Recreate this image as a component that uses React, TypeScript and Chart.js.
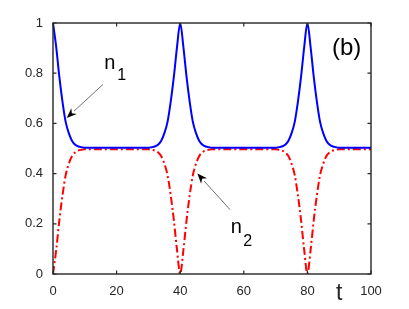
import React, { useEffect, useRef } from "react";
import { Chart, registerables } from "chart.js";

Chart.register(...registerables);

// time axis (t)
const T = [
  0, 1, 2, 3, 4, 5, 6, 7, 8, 9, 10, 11, 12, 13, 14, 15, 16, 17, 18, 19,
  20, 21, 22, 23, 24, 25, 26, 27, 28, 29, 30, 31, 32, 33, 34, 35, 36, 37, 38, 39,
  40, 41, 42, 43, 44, 45, 46, 47, 48, 49, 50, 51, 52, 53, 54, 55, 56, 57, 58, 59,
  60, 61, 62, 63, 64, 65, 66, 67, 68, 69, 70, 71, 72, 73, 74, 75, 76, 77, 78, 79,
  80, 81, 82, 83, 84, 85, 86, 87, 88, 89, 90, 91, 92, 93, 94, 95, 96, 97, 98, 99, 100,
];

// n1 (blue, solid)
const N1 = [
  1.0, 0.905, 0.785, 0.685, 0.605, 0.56, 0.53, 0.515, 0.508, 0.505, 0.503, 0.503, 0.503, 0.503, 0.503, 0.503, 0.503, 0.503, 0.503, 0.503,
  0.503, 0.503, 0.503, 0.503, 0.503, 0.503, 0.503, 0.503, 0.503, 0.503, 0.503, 0.505, 0.508, 0.515, 0.53, 0.56, 0.605, 0.685, 0.785, 0.905,
  1.0, 0.905, 0.785, 0.685, 0.605, 0.56, 0.53, 0.515, 0.508, 0.505, 0.503, 0.503, 0.503, 0.503, 0.503, 0.503, 0.503, 0.503, 0.503, 0.503,
  0.503, 0.503, 0.503, 0.503, 0.503, 0.503, 0.503, 0.503, 0.503, 0.503, 0.503, 0.505, 0.508, 0.515, 0.53, 0.56, 0.605, 0.685, 0.785, 0.905,
  1.0, 0.905, 0.785, 0.685, 0.605, 0.56, 0.53, 0.515, 0.508, 0.505, 0.503, 0.503, 0.503, 0.503, 0.503, 0.503, 0.503, 0.503, 0.503, 0.503, 0.503,
];

// n2 (red, dash-dot)
const N2 = [
  0.0, 0.095, 0.215, 0.315, 0.395, 0.44, 0.47, 0.485, 0.492, 0.495, 0.497, 0.497, 0.497, 0.497, 0.497, 0.497, 0.497, 0.497, 0.497, 0.497,
  0.497, 0.497, 0.497, 0.497, 0.497, 0.497, 0.497, 0.497, 0.497, 0.497, 0.497, 0.495, 0.492, 0.485, 0.47, 0.44, 0.395, 0.315, 0.215, 0.095,
  0.0, 0.095, 0.215, 0.315, 0.395, 0.44, 0.47, 0.485, 0.492, 0.495, 0.497, 0.497, 0.497, 0.497, 0.497, 0.497, 0.497, 0.497, 0.497, 0.497,
  0.497, 0.497, 0.497, 0.497, 0.497, 0.497, 0.497, 0.497, 0.497, 0.497, 0.497, 0.495, 0.492, 0.485, 0.47, 0.44, 0.395, 0.315, 0.215, 0.095,
  0.0, 0.095, 0.215, 0.315, 0.395, 0.44, 0.47, 0.485, 0.492, 0.495, 0.497, 0.497, 0.497, 0.497, 0.497, 0.497, 0.497, 0.497, 0.497, 0.497, 0.497,
];

const X_TICKS = [0, 20, 40, 60, 80, 100];
const Y_TICKS = [0, 0.2, 0.4, 0.6, 0.8, 1];

const FONT = '"Liberation Sans", Arial, Helvetica, sans-serif';
const AXIS_COLOR = "#262626";

// annotation anchors in data units
const LABELS = [
  { main: "n", sub: "1", mx: 16.1, my: 0.818, sx: 20.2, sy: 0.773, arrow: [15.7, 0.755, 4.3, 0.622] },
  { main: "n", sub: "2", mx: 55.9, my: 0.163, sx: 59.8, sy: 0.113, arrow: [55.7, 0.256, 45.4, 0.4] },
];

const overlayPlugin = {
  id: "overlay",
  afterDraw(chart: any) {
    const { ctx, chartArea: a, scales } = chart;
    const xs = scales.x;
    const ys = scales.y;
    ctx.save();
    // box
    ctx.strokeStyle = AXIS_COLOR;
    ctx.lineWidth = 1.4;
    ctx.strokeRect(a.left, a.top, a.right - a.left, a.bottom - a.top);
    // inward ticks
    ctx.lineWidth = 1.2;
    const tl = 3.5;
    ctx.beginPath();
    X_TICKS.forEach((v) => {
      const px = xs.getPixelForValue(v);
      ctx.moveTo(px, a.bottom);
      ctx.lineTo(px, a.bottom - tl);
      ctx.moveTo(px, a.top);
      ctx.lineTo(px, a.top + tl);
    });
    Y_TICKS.forEach((v) => {
      const py = ys.getPixelForValue(v);
      ctx.moveTo(a.left, py);
      ctx.lineTo(a.left + tl, py);
      ctx.moveTo(a.right, py);
      ctx.lineTo(a.right - tl, py);
    });
    ctx.stroke();

    // labels and arrows
    ctx.fillStyle = "#000";
    ctx.textBaseline = "alphabetic";
    ctx.textAlign = "left";
    LABELS.forEach((l) => {
      ctx.font = `20px ${FONT}`;
      ctx.fillText(l.main, xs.getPixelForValue(l.mx), ys.getPixelForValue(l.my));
      ctx.font = `16px ${FONT}`;
      ctx.fillText(l.sub, xs.getPixelForValue(l.sx), ys.getPixelForValue(l.sy));
      const x0 = xs.getPixelForValue(l.arrow[0]);
      const y0 = ys.getPixelForValue(l.arrow[1]);
      const x1 = xs.getPixelForValue(l.arrow[2]);
      const y1 = ys.getPixelForValue(l.arrow[3]);
      const ang = Math.atan2(y1 - y0, x1 - x0);
      const len = 10;
      const hw = 4;
      const bx = x1 - len * Math.cos(ang);
      const by = y1 - len * Math.sin(ang);
      ctx.strokeStyle = "#4d4d4d";
      ctx.lineWidth = 0.8;
      ctx.beginPath();
      ctx.moveTo(x0, y0);
      ctx.lineTo(bx, by);
      ctx.stroke();
      const nx = -Math.sin(ang);
      const ny = Math.cos(ang);
      const nbx = x1 - len * 0.7 * Math.cos(ang);
      const nby = y1 - len * 0.7 * Math.sin(ang);
      ctx.fillStyle = "#000";
      ctx.beginPath();
      ctx.moveTo(x1, y1);
      ctx.lineTo(bx + nx * hw, by + ny * hw);
      ctx.lineTo(nbx, nby);
      ctx.lineTo(bx - nx * hw, by - ny * hw);
      ctx.closePath();
      ctx.fill();
    });

    // panel label and axis label
    ctx.fillStyle = "#000";
    ctx.font = `24px ${FONT}`;
    ctx.fillText("(b)", xs.getPixelForValue(87.7), ys.getPixelForValue(0.874));
    ctx.fillStyle = AXIS_COLOR;
    ctx.font = `23px ${FONT}`;
    ctx.fillText("t", xs.getPixelForValue(89.0), ys.getPixelForValue(-0.105));
    ctx.restore();
  },
};

export default function App() {
  const ref = useRef<HTMLCanvasElement | null>(null);
  useEffect(() => {
    document.body.style.margin = "0";
    const canvas = ref.current;
    if (!canvas) return;
    const chart = new Chart(canvas, {
      type: "line",
      data: {
        datasets: [
          {
            label: "n1",
            data: T.map((t, i) => ({ x: t, y: N1[i] })),
            borderColor: "#0000FF",
            borderWidth: 2,
            pointRadius: 0,
            cubicInterpolationMode: "monotone",
            fill: false,
          },
          {
            label: "n2",
            data: T.map((t, i) => ({ x: t, y: N2[i] })),
            borderColor: "#FF0000",
            borderWidth: 2,
            borderDash: [8, 3, 2, 3],
            pointRadius: 0,
            cubicInterpolationMode: "monotone",
            fill: false,
          },
        ],
      },
      options: {
        animation: false,
        responsive: false,
        maintainAspectRatio: false,
        layout: { padding: { left: 0, top: 23, right: 38, bottom: 0 } },
        plugins: { legend: { display: false }, tooltip: { enabled: false } },
        scales: {
          x: {
            type: "linear",
            min: 0,
            max: 100,
            grid: { display: false, drawTicks: false },
            border: { display: false },
            afterFit: (s: any) => {
              s.height = 35;
            },
            afterBuildTicks: (s: any) => {
              s.ticks = X_TICKS.map((v) => ({ value: v }));
            },
            ticks: {
              color: AXIS_COLOR,
              font: { family: FONT, size: 13 },
              padding: 10,
              maxRotation: 0,
              callback: (v: any) => String(Number(v)),
            },
          },
          y: {
            type: "linear",
            min: 0,
            max: 1,
            grid: { display: false, drawTicks: false },
            border: { display: false },
            afterFit: (s: any) => {
              s.width = 53;
            },
            afterBuildTicks: (s: any) => {
              s.ticks = Y_TICKS.map((v) => ({ value: v }));
            },
            ticks: {
              color: AXIS_COLOR,
              font: { family: FONT, size: 13 },
              padding: 10,
              callback: (v: any) => String(Number(v)),
            },
          },
        },
      },
      plugins: [overlayPlugin],
    });
    return () => chart.destroy();
  }, []);
  return <canvas ref={ref} width={409} height={309} style={{ display: "block" }} />;
}
